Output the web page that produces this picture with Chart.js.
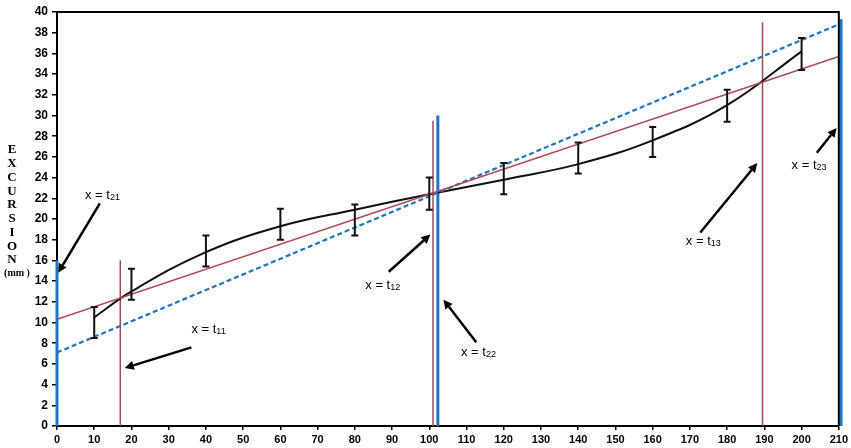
<!DOCTYPE html>
<html>
<head>
<meta charset="utf-8">
<script src="https://cdn.jsdelivr.net/npm/chart.js@4.4.0/dist/chart.umd.min.js"></script>
<style>
  html, body { margin: 0; padding: 0; background: #fff; }
  #wrap { width: 851px; height: 448px; }
</style>
</head>
<body>
<div id="wrap"><canvas id="chart"></canvas></div>
<script>
// measured excursion (mm) with error bars
const times = [10, 20, 40, 60, 80, 100, 120, 140, 160, 180, 200];
const excursion = [10.5, 13.0, 16.8, 19.3, 20.9, 22.4, 23.8, 25.3, 27.6, 31.0, 36.2];
const errLow = [8.5, 12.2, 15.4, 18.0, 18.4, 20.9, 22.4, 24.4, 26.0, 29.4, 34.4];
const errHigh = [11.5, 15.2, 18.4, 21.0, 21.4, 24.0, 25.4, 27.4, 28.9, 32.5, 37.5];

// fitted straight lines
const redLineX = [0, 210];
const redLineY = [10.3, 35.7];
const blueLineX = [0, 210];
const blueLineY = [7.1, 38.8];

// vertical markers (x position, top value)
const redMarkX = [17, 101, 189.5];
const redMarkTop = [16, 29.5, 39];
const blueMarkX = [0, 102.3, 210.6];
const blueMarkTop = [16, 30, 39.3];

// annotation labels
const noteSub = ["21", "11", "12", "22", "13", "23"];
const noteX = [12.2, 40.7, 87.5, 113.2, 173.6, 202.0];
const noteY = [22.3, 9.3, 13.6, 7.1, 17.8, 25.2];
const arrowFromX = [11.5, 36.1, 89.1, 112.6, 172.8, 204.1];
const arrowFromY = [21.5, 7.6, 14.9, 8.1, 18.7, 26.4];
const arrowToX = [0.3, 18.2, 100.3, 103.8, 188.1, 209.4];
const arrowToY = [14.8, 5.6, 18.5, 12.2, 25.4, 28.8];

const xTicks = [0, 210, 10];
const yTicks = [0, 40, 2];

const redColor = "#9c4a55";
const blueColor = "#1f74c4";

function pts(xs, ys) {
    return xs.map((v, i) => ({ x: v, y: ys[i] }));
}

const datasets = [
    {
        data: pts(redLineX, redLineY),
        borderColor: "#b0485a",
        borderWidth: 1.5,
        pointRadius: 0,
        showLine: true
    },
    {
        data: pts(blueLineX, blueLineY),
        borderColor: blueColor,
        borderWidth: 2.2,
        borderDash: [5, 3],
        pointRadius: 0,
        showLine: true
    },
    {
        data: pts(times, excursion),
        borderColor: "#111",
        borderWidth: 2,
        pointRadius: 0,
        showLine: true,
        tension: 0.4
    }
];

redMarkX.forEach((v, i) => {
    datasets.push({
        data: [{ x: v, y: 0 }, { x: v, y: redMarkTop[i] }],
        borderColor: redColor,
        borderWidth: 1.5,
        pointRadius: 0,
        showLine: true,
        clip: false
    });
});

blueMarkX.forEach((v, i) => {
    datasets.push({
        data: [{ x: v, y: 0 }, { x: v, y: blueMarkTop[i] }],
        borderColor: blueColor,
        borderWidth: 3,
        pointRadius: 0,
        showLine: true,
        clip: false
    });
});

function drawArrow(ctx, x1, y1, x2, y2) {
    const ang = Math.atan2(y2 - y1, x2 - x1);
    const head = 9;
    const bx = x2 - head * Math.cos(ang), by = y2 - head * Math.sin(ang);
    ctx.beginPath();
    ctx.moveTo(x1, y1);
    ctx.lineTo(bx, by);
    ctx.stroke();
    ctx.beginPath();
    ctx.moveTo(x2, y2);
    ctx.lineTo(bx + 4.5 * Math.sin(ang), by - 4.5 * Math.cos(ang));
    ctx.lineTo(bx - 4.5 * Math.sin(ang), by + 4.5 * Math.cos(ang));
    ctx.closePath();
    ctx.fill();
}

const extras = {
    id: "extras",
    afterDatasetsDraw(chart) {
        const { ctx, chartArea: a, scales: { x, y } } = chart;
        ctx.save();

        // error bars
        ctx.strokeStyle = "#111";
        ctx.lineWidth = 2;
        times.forEach((t, i) => {
            const px = x.getPixelForValue(t);
            const lo = y.getPixelForValue(errLow[i]);
            const hi = y.getPixelForValue(errHigh[i]);
            ctx.beginPath();
            ctx.moveTo(px, lo); ctx.lineTo(px, hi);
            ctx.moveTo(px - 3.5, lo); ctx.lineTo(px + 3.5, lo);
            ctx.moveTo(px - 3.5, hi); ctx.lineTo(px + 3.5, hi);
            ctx.stroke();
        });

        // top and right frame
        ctx.strokeStyle = "#000";
        ctx.lineWidth = 2;
        ctx.beginPath();
        ctx.moveTo(a.left, a.top);
        ctx.lineTo(a.right, a.top);
        ctx.lineTo(a.right, a.bottom);
        ctx.stroke();

        // labels and arrows
        ctx.fillStyle = "#000";
        ctx.strokeStyle = "#000";
        ctx.lineWidth = 2.5;
        noteSub.forEach((s, i) => {
            drawArrow(ctx,
                x.getPixelForValue(arrowFromX[i]), y.getPixelForValue(arrowFromY[i]),
                x.getPixelForValue(arrowToX[i]), y.getPixelForValue(arrowToY[i]));
            const cx = x.getPixelForValue(noteX[i]);
            const cy = y.getPixelForValue(noteY[i]);
            ctx.font = "13px 'Liberation Sans', Arial, sans-serif";
            const main = "x = t";
            const w1 = ctx.measureText(main).width;
            ctx.font = "9px 'Liberation Sans', Arial, sans-serif";
            const w2 = ctx.measureText(s).width;
            const left = cx - (w1 + w2) / 2;
            ctx.textBaseline = "middle";
            ctx.textAlign = "left";
            ctx.font = "13px 'Liberation Sans', Arial, sans-serif";
            ctx.fillText(main, left, cy);
            ctx.font = "9px 'Liberation Sans', Arial, sans-serif";
            ctx.fillText(s, left + w1, cy + 2);
        });

        // stacked axis title
        const word = "EXCURSION";
        ctx.font = "bold 13px 'Liberation Serif', serif";
        ctx.textAlign = "center";
        ctx.textBaseline = "middle";
        for (let i = 0; i < word.length; i++) {
            ctx.fillText(word[i], 12, 150 + i * 13.75);
        }
        ctx.font = "bold 10px 'Liberation Serif', serif";
        ctx.fillText("(mm )", 17, 273);

        ctx.restore();
    }
};

const tickFont = { family: "'Liberation Sans', Arial, sans-serif", size: 11, weight: "bold" };
const yTickFont = { family: "'Liberation Sans', Arial, sans-serif", size: 12, weight: "bold" };

new Chart(document.getElementById("chart"), {
    type: "scatter",
    data: { datasets },
    options: {
        responsive: true,
        maintainAspectRatio: false,
        animation: false,
        events: [],
        layout: { padding: { top: 12, right: 9, left: 0, bottom: 0 } },
        plugins: {
            legend: { display: false },
            tooltip: { enabled: false }
        },
        scales: {
            x: {
                type: "linear",
                min: xTicks[0],
                max: xTicks[1],
                ticks: { stepSize: xTicks[2], color: "#000", font: tickFont, padding: 3, maxRotation: 0, autoSkip: false },
                grid: { drawOnChartArea: false, color: "#000", tickLength: 4, lineWidth: 1.5 },
                border: { color: "#000", width: 2 },
                afterFit: s => { s.height = 22; }
            },
            y: {
                min: yTicks[0],
                max: yTicks[1],
                ticks: { stepSize: yTicks[2], color: "#000", font: yTickFont, padding: 4 },
                grid: { drawOnChartArea: false, color: "#000", tickLength: 5, lineWidth: 1.5 },
                border: { color: "#000", width: 2 },
                afterFit: s => { s.width = 57; }
            }
        }
    },
    plugins: [extras]
});
</script>
</body>
</html>
